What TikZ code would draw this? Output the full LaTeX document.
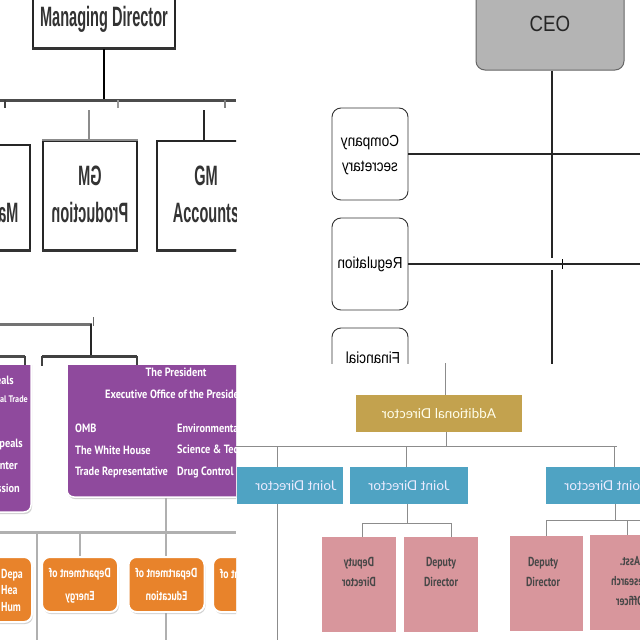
\documentclass[tikz,border=0pt]{standalone}
\usepackage{fontspec}
\usetikzlibrary{shadows}
\setmainfont{Liberation Sans}
\newfontfamily\condf[FakeStretch=0.52]{Liberation Sans}
\newfontfamily\arialf[FakeStretch=0.85]{Liberation Sans}
\newfontfamily\presf[FakeStretch=0.86]{PT Sans}
\newfontfamily\tallf[FakeStretch=0.76]{PT Sans}
\newfontfamily\latof{Lato}
\definecolor{purp}{HTML}{8F4A9D}
\definecolor{orng}{HTML}{E8832B}
\definecolor{goldc}{HTML}{C3A24E}
\definecolor{jdblue}{HTML}{4FA3C3}
\definecolor{pinkc}{HTML}{D8969C}
\definecolor{ceog}{HTML}{B4B4B4}
\definecolor{lgray}{HTML}{B0B0B0}
\definecolor{mgray}{HTML}{8C8C8C}
\newcommand\mirtxt[1]{\reflectbox{\begin{tabular}{@{}c@{}}#1\end{tabular}}}
\begin{document}
\begin{tikzpicture}[x=1pt,y=-1pt,
  tlbox/.style={draw=black!85, line width=1.6pt, fill=white, inner sep=0pt},
  tltext/.style={font=\condf\bfseries\fontsize{28}{37}\selectfont, inner sep=0pt, text=black!80},
  tlline/.style={line width=3pt, black!70},
  tltick/.style={line width=1.6pt, black!75},
  trbox/.style={draw=black!80, line width=0.9pt, fill=white, rounded corners=9pt, inner sep=0pt, minimum width=76pt, minimum height=92pt},
  trtext/.style={font=\arialf\fontsize{16}{25}\selectfont, inner sep=0pt},
  trline/.style={line width=1.2pt, black!85},
  brline/.style={line width=1pt, mgray},
  jdtext/.style={inner sep=0pt, text=white!92!blue, font=\latof\fontsize{13.5}{16}\selectfont},
  jdbox/.style={jdtext, fill=jdblue, minimum height=37pt},
  pkbox/.style={fill=pinkc, inner sep=0pt, minimum width=74pt, minimum height=95pt},
  pktext/.style={font=\tallf\bfseries\fontsize{13}{20}\selectfont, text=black!72, inner sep=0pt, align=center},
  prbox/.style={fill=purp, draw=white, line width=1.5pt, rounded corners=7pt, inner sep=0pt, drop shadow={opacity=0.35, shadow xshift=1pt, shadow yshift=-2pt}},
  prtext/.style={font=\presf\bfseries\fontsize{12}{14}\selectfont, text=white, inner sep=0pt, anchor=west},
  orbox/.style={fill=orng, draw=white, line width=2pt, rounded corners=8pt, inner sep=0pt, minimum width=76pt, minimum height=55pt, drop shadow={opacity=0.35, shadow xshift=1pt, shadow yshift=-2pt}},
  ortext/.style={font=\tallf\bfseries\fontsize{13}{23}\selectfont, text=white}
]
\useasboundingbox (0,0) rectangle (640,640);
\fill[white] (0,0) rectangle (640,640);

% ---------------- top left ----------------
\begin{scope}
\clip (0,0) rectangle (236,365);
\node[tlbox, minimum width=142pt, minimum height=58pt, tltext] (md) at (104,19) {Managing Director};
\draw[line width=3pt, black!80] (md.south west) -- (md.south east);
\coordinate (busL) at (0,100);
\coordinate (busR) at (236,100);
\draw[line width=1.6pt] (md.south) -- (md.south |- busL);
\draw[tlline] (busL) -- (busR);
\coordinate (tk1) at (5,100);
\coordinate (tk2) at (118,100);
\coordinate (tk3) at (225,100);
\draw[tltick] (tk1) -- ++(0,8);
\draw[tltick, black!40] (tk2) -- ++(0,8);
\draw[tltick, black!50] (tk3) -- ++(0,8);
\node[tlbox, minimum width=70pt, minimum height=105pt] (gmL) at (-5,197.5) {};
\node[tlbox, minimum width=94pt, minimum height=109pt] (gmP) at (90,195.5) {};
\node[tlbox, minimum width=100pt, minimum height=109pt] (gmA) at (207,195.5) {};
\draw[line width=3pt, black!80] (gmL.south west) -- (gmL.south east);
\draw[line width=3pt, black!80] (gmP.south west) -- (gmP.south east);
\draw[line width=3pt, black!80] (gmA.south west) -- (gmA.south east);
\draw[line width=2.5pt, black!45] (gmP.north west) -- (gmP.north east);
\coordinate (cP) at (89,110);
\coordinate (cA) at (204,110);
\draw[line width=2pt, black!45] (cP) -- (cP |- gmP.north);
\draw[line width=2pt, black!85] (cA) -- (cA |- gmA.north);
\node[tltext] (gmLt) at (-16,197) {\mirtxt{GM\\Marketing}};
\node[tltext] (gmPt) at (90,197) {\mirtxt{GM\\Production}};
\node[tltext] (gmAt) at (206,197) {\begin{tabular}{@{}c@{}}GM\\Accounts\end{tabular}};
% lower fragment
\coordinate (l1a) at (0,324);
\coordinate (l1b) at (92,324);
\draw[tlline, black!55] (l1a) -- (l1b);
\draw[line width=1pt, black!60] (93,317) -- (93,326);
\draw[line width=2pt, black!85] (91,324) -- (91,356);
\coordinate (l2a) at (42,356);
\coordinate (l2b) at (137,356);
\draw[tlline, black!75] (l2a) -- (l2b);
\draw[tltick] (l2a) -- ++(0,10);
\draw[tltick] (l2b) -- ++(0,10);
\coordinate (l3a) at (0,356);
\coordinate (l3b) at (25,356);
\draw[tlline] (l3a) -- (l3b);
\draw[tltick] (l3b) -- ++(0,10);
\end{scope}

% ---------------- top right ----------------
\begin{scope}
\clip (236,0) rectangle (640,363);
\node[draw=black!60, line width=1pt, fill=ceog, rounded corners=9pt, minimum width=148pt, minimum height=92pt, inner sep=0pt, font=\arialf\fontsize{22}{22}\selectfont, text=black!85] (ceo) at (550,24) {CEO};
\coordinate (vx) at (552,0);
\coordinate (gapT) at (552,258);
\coordinate (gapB) at (552,270);
\coordinate (vend) at (552,365);
\draw[trline] (ceo.south -| vx) -- (gapT);
\draw[trline] (gapB) -- (vend);
\draw[line width=0.8pt] (562,259) -- (562,269);
\node[trbox, trtext] (cs) at (370,154) {\mirtxt{Company\\secretary}};
\node[trbox, trtext] (reg) at (370,264) {\reflectbox{Regulation}};
\node[trbox] (fin) at (370,374) {};
\node[trtext] (fint) at (373,358) {\reflectbox{Financial}};
\coordinate (re) at (640,0);
\draw[trline] (cs.east) -- (cs.east -| re);
\draw[trline] (reg.east) -- (reg.east -| re);
\end{scope}

% ---------------- bottom left ----------------
\begin{scope}
\clip (0,365) rectangle (236,640);
\coordinate (bb0) at (0,532);
\coordinate (bb1) at (236,532);
\draw[line width=3pt, lgray] (bb0) -- (bb1);
\coordinate (v37) at (37,532);
\coordinate (v80) at (80,532);
\coordinate (v166) at (166,640);
\draw[line width=2.5pt, lgray] (v37) -- (37,640);
\node[prbox, minimum width=111pt, minimum height=172pt] (prL) at (-24.5,426) {};
\node[prbox, minimum width=223pt, minimum height=157pt] (pres) at (178.5,418.5) {};
\draw[line width=2.5pt, lgray] (pres.south -| v166) -- (v166);
\node[prtext, anchor=center] (pr0) at (176,372) {The President};
\node[prtext] (pr1) at (105,394) {Executive Office of the President};
\node[prtext] (pr2) at (75,428) {OMB};
\node[prtext] (pr3) at (75,450) {The White House};
\node[prtext] (pr4) at (75,472) {Trade Representative};
\node[prtext] (pr5) at (177,428) {Environmental};
\node[prtext] (pr6) at (177,450) {Science \& Technology};
\node[prtext] (pr7) at (177,472) {Drug Control};
\node[prtext, anchor=east] (ql1) at (14,380) {eals};
\node[prtext, anchor=east, font=\presf\bfseries\fontsize{9.5}{11}\selectfont] (ql2) at (28,399) {al Trade};
\node[prtext, anchor=east] (ql3) at (23,444) {peals};
\node[prtext, anchor=east] (ql4) at (18,466) {nter};
\node[prtext, anchor=east] (ql5) at (20,488) {ssion};
\node[orbox, minimum width=72pt, minimum height=65pt] (oL) at (-4,589.5) {};
\node[ortext, anchor=west, align=left, font=\tallf\bfseries\fontsize{13}{16.5}\selectfont, inner sep=0pt] (oLt) at (1,590) {Depa\\Hea\\Hum};
\node[orbox, ortext] (oE) at (80,584.5) {\mirtxt{Department of\\Energy}};
\draw[line width=2.5pt, lgray] (v80) -- (oE.north);
\node[orbox, ortext] (oEd) at (166.5,584.5) {\mirtxt{Department of\\Education}};
\node[orbox] (oR) at (251,584.5) {};
\node[ortext] (oRt) at (251,575) {\reflectbox{Department of}};
\end{scope}

% ---------------- bottom right ----------------
\begin{scope}
\clip (236,363) rectangle (640,640);
\coordinate (adtop) at (445,363);
\node[fill=goldc, minimum width=166pt, minimum height=37pt, inner sep=0pt, text=white!92!yellow, font=\latof\fontsize{13.6}{16}\selectfont] (add) at (439,413.5) {\reflectbox{Additional Director}};
\draw[brline] (adtop) -- (adtop |- add.north);
\coordinate (ab) at (446,446);
\draw[brline] (ab |- add.south) -- (ab);
\coordinate (bL) at (236,446);
\coordinate (bR) at (617,446);
\draw[brline] (bL) -- (bR);
\node[jdbox, minimum width=106pt] (jdL) at (290,485.5) {};
\node[jdtext] (jdLt) at (296,485.5) {\reflectbox{Joint Director}};
\node[jdbox, minimum width=118pt] (jdM) at (409,485.5) {\reflectbox{Joint Director}};
\node[jdbox, minimum width=118pt] (jdR) at (605,485.5) {\reflectbox{Joint Director}};
\coordinate (x277) at (277,446);
\coordinate (x406) at (406,446);
\coordinate (x614) at (614,446);
\coordinate (x277b) at (277,640);
\draw[brline] (x277) -- (x277 |- jdL.north);
\draw[brline] (x406) -- (x406 |- jdM.north);
\draw[brline] (x614) -- (x614 |- jdR.north);
\draw[brline] (x277 |- jdL.south) -- (x277b);
% middle group
\coordinate (mB) at (407,523);
\coordinate (mL) at (362,523);
\coordinate (mR) at (451,523);
\draw[brline] (mB |- jdM.south) -- (mB);
\draw[brline] (mL) -- (mR);
\node[pkbox] (pk1) at (359,584.5) {};
\node[pktext] (pk1t) at (359,572) {\mirtxt{Deputy\\Director}};
\node[pkbox] (pk2) at (441,584.5) {};
\node[pktext] (pk2t) at (441,572) {Deputy\\Director};
\draw[brline] (mL) -- (mL |- pk1.north);
\draw[brline] (mR) -- (mR |- pk2.north);
% right group
\coordinate (rB) at (615,520);
\coordinate (rL) at (546,520);
\coordinate (rR) at (640,520);
\coordinate (rT) at (627,520);
\draw[brline] (rB |- jdR.south) -- (rB);
\draw[brline] (rL) -- (rR);
\node[pkbox, minimum width=73pt] (pk3) at (546.5,583.5) {};
\node[pktext] (pk3t) at (543,572) {Deputy\\Director};
\node[pkbox, minimum width=76pt] (pk4) at (628,582.5) {};
\node[pktext] (pk4t) at (630,581) {\mirtxt{Asst.\\Research\\Officer}};
\draw[brline] (rL) -- (rL |- pk3.north);
\draw[brline] (rT) -- (rT |- pk4.north);
\end{scope}
\end{tikzpicture}
\end{document}
